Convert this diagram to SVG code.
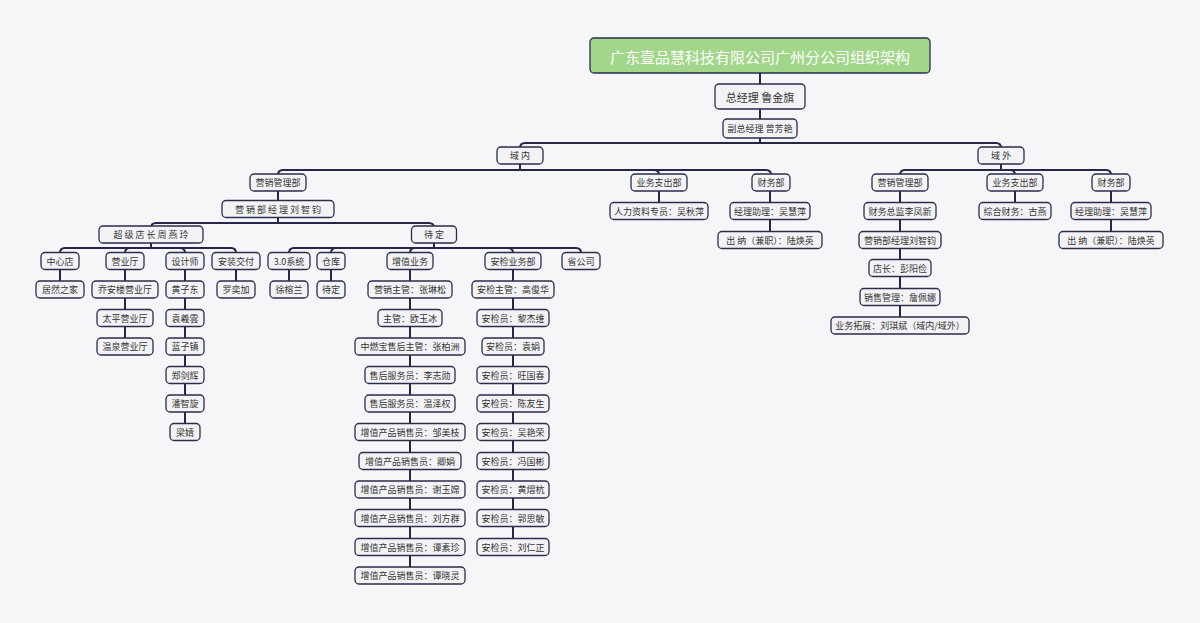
<svg xmlns="http://www.w3.org/2000/svg" width="1200" height="623" viewBox="0 0 1200 623">
<style>
.bg{fill:#f6f6f8}
.n rect{fill:#f3f3f6;stroke:#2b2d4a;stroke-width:1.3}
.n text{font-family:"Noto Sans CJK SC","Noto Sans",sans-serif;font-size:9px;fill:#333;text-anchor:middle;dominant-baseline:central}
#root rect{fill:#a2d68b;stroke:#2b2d4a;stroke-width:1.3}
#root text{font-size:15px;fill:#fff}
#gm text{font-size:11px}
.c path{fill:none;stroke:#24264a;stroke-width:2}
</style>
<rect class="bg" width="1200" height="623"/>
<g class="c" id="connectors">
<path d="M760,73V84M760,109V119M760,138V143H525Q520,143 520,148M760,143H996Q1001,143 1001,148"/>
<path d="M520,164V170H283Q278,170 278,175M520,170H654Q659,170 659,175M520,170H766Q771,170 771,175"/>
<path d="M278,191V201M278,217V223H156Q151,223 151,228M278,223H429Q434,223 434,228"/>
<path d="M151,243V248H65Q60,248 60,253M151,248H130Q125,248 125,253M151,248H180Q185,248 185,253M151,248H231Q236,248 236,253"/>
<path d="M434,243V248H294Q289,248 289,253M434,248H336Q331,248 331,253M434,248H415Q410,248 410,253M434,248H508Q513,248 513,253M434,248H576Q581,248 581,253"/>
<path d="M60,270V281M125,270V338M185,270V424M236,270V281M289,270V281M331,270V281M410,270V567M513,270V539"/>
<path d="M659,191V203M770,191V232"/>
<path d="M1001,164V170H905Q900,170 900,175M1001,170H1010Q1015,170 1015,175M1001,170H1106Q1111,170 1111,175"/>
<path d="M900,191V317M1015,191V203M1111,191V232"/>
</g>
<g class="n" id="root"><rect x="590" y="38" width="340" height="35" rx="4"/><text x="760" y="56">广东壹品慧科技有限公司广州分公司组织架构</text></g>
<g class="n" id="gm"><rect x="715" y="84" width="90" height="25" rx="4"/><text x="760" y="96.5">总经理 鲁金旗</text></g>
<g class="n" id="vgm"><rect x="723" y="119" width="74" height="19" rx="4"/><text x="760" y="128.5">副总经理 曾芳艳</text></g>
<g class="n" id="yn"><rect x="497" y="147" width="46" height="17" rx="4"/><text x="520" y="155.5">域 内</text></g>
<g class="n" id="yw"><rect x="978" y="147" width="46" height="17" rx="4"/><text x="1001" y="155.5">域 外</text></g>

<g class="n" id="yxglb"><rect x="250" y="174" width="56" height="17" rx="4"/><text x="278" y="182.5">营销管理部</text></g>
<g class="n" id="yxjl"><rect x="222" y="200.5" width="112" height="17" rx="4"/><text x="278" y="209">营 销 部 经 理 刘 智 钧</text></g>
<g class="n" id="cjdz"><rect x="99" y="226" width="104" height="17" rx="4"/><text x="151" y="234.5">超 级 店 长 周 燕 玲</text></g>
<g class="n" id="dd"><rect x="411.5" y="226" width="45" height="17" rx="4"/><text x="434" y="234.5">待 定</text></g>

<g class="n" id="zxd"><rect x="41" y="252.5" width="38" height="17" rx="4"/><text x="60" y="261">中心店</text></g>
<g class="n" id="yyt"><rect x="106" y="252.5" width="38" height="17" rx="4"/><text x="125" y="261">营业厅</text></g>
<g class="n" id="sjs"><rect x="166" y="252.5" width="38" height="17" rx="4"/><text x="185" y="261">设计师</text></g>
<g class="n" id="azjf"><rect x="212" y="252.5" width="48" height="17" rx="4"/><text x="236" y="261">安装交付</text></g>
<g class="n" id="rzjj"><rect x="36" y="281" width="48" height="17" rx="4"/><text x="60" y="289.5">居然之家</text></g>
<g class="n" id="qal"><rect x="92" y="281" width="66" height="17" rx="4"/><text x="125" y="289.5">乔安楼营业厅</text></g>
<g class="n" id="tp"><rect x="97" y="309.5" width="56" height="17" rx="4"/><text x="125" y="318">太平营业厅</text></g>
<g class="n" id="wq"><rect x="97" y="338" width="56" height="17" rx="4"/><text x="125" y="346.5">温泉营业厅</text></g>
<g class="n" id="hzd"><rect x="166" y="281" width="38" height="17" rx="4"/><text x="185" y="289.5">黄子东</text></g>
<g class="n" id="yxy"><rect x="166" y="309.5" width="38" height="17" rx="4"/><text x="185" y="318">袁羲雲</text></g>
<g class="n" id="lzz"><rect x="166" y="338" width="38" height="17" rx="4"/><text x="185" y="346.5">蓝子镇</text></g>
<g class="n" id="zjh"><rect x="166" y="366.5" width="38" height="17" rx="4"/><text x="185" y="375">郑剑辉</text></g>
<g class="n" id="pzx"><rect x="166" y="395" width="38" height="17" rx="4"/><text x="185" y="403.5">潘智旋</text></g>
<g class="n" id="lj"><rect x="170" y="423.5" width="30" height="17" rx="4"/><text x="185" y="432">梁婧</text></g>
<g class="n" id="lyj"><rect x="217" y="281" width="38" height="17" rx="4"/><text x="236" y="289.5">罗奕加</text></g>

<g class="n" id="xt"><rect x="268" y="252.5" width="42" height="17" rx="4"/><text x="289" y="261">3.0系统</text></g>
<g class="n" id="ck"><rect x="317" y="252.5" width="28" height="17" rx="4"/><text x="331" y="261">仓库</text></g>
<g class="n" id="zzyw"><rect x="387" y="252.5" width="46" height="17" rx="4"/><text x="410" y="261">增值业务</text></g>
<g class="n" id="ajywb"><rect x="485" y="252.5" width="56" height="17" rx="4"/><text x="513" y="261">安检业务部</text></g>
<g class="n" id="sgs"><rect x="562" y="252.5" width="38" height="17" rx="4"/><text x="581" y="261">省公司</text></g>
<g class="n" id="xrl"><rect x="270" y="281" width="38" height="17" rx="4"/><text x="289" y="289.5">徐榕兰</text></g>
<g class="n" id="dd2"><rect x="317" y="281" width="28" height="17" rx="4"/><text x="331" y="289.5">待定</text></g>

<g class="n" id="z1"><rect x="368" y="281" width="84" height="17" rx="4"/><text x="410" y="289.5">营销主管：张琳松</text></g>
<g class="n" id="z2"><rect x="378" y="309.5" width="64" height="17" rx="4"/><text x="410" y="318">主管：欧玉冰</text></g>
<g class="n" id="z3"><rect x="355" y="338" width="110" height="17" rx="4"/><text x="410" y="346.5">中燃宝售后主管：张柏洲</text></g>
<g class="n" id="z4"><rect x="365" y="366.5" width="90" height="17" rx="4"/><text x="410" y="375">售后服务员：李志勋</text></g>
<g class="n" id="z5"><rect x="365" y="395" width="90" height="17" rx="4"/><text x="410" y="403.5">售后服务员：温泽权</text></g>
<g class="n" id="z6"><rect x="355" y="423.5" width="110" height="17" rx="4"/><text x="410" y="432">增值产品销售员：邹美枝</text></g>
<g class="n" id="z7"><rect x="359" y="452.5" width="102" height="17" rx="4"/><text x="410" y="461">增值产品销售员：卿娟</text></g>
<g class="n" id="z8"><rect x="355" y="481" width="110" height="17" rx="4"/><text x="410" y="489.5">增值产品销售员：谢玉嫦</text></g>
<g class="n" id="z9"><rect x="355" y="509.5" width="110" height="17" rx="4"/><text x="410" y="518">增值产品销售员：刘方群</text></g>
<g class="n" id="z10"><rect x="355" y="538.5" width="110" height="17" rx="4"/><text x="410" y="547">增值产品销售员：谭素珍</text></g>
<g class="n" id="z11"><rect x="355" y="567" width="110" height="17" rx="4"/><text x="410" y="575.5">增值产品销售员：谭晓灵</text></g>

<g class="n" id="a1"><rect x="472" y="281" width="82" height="17" rx="4"/><text x="513" y="289.5">安检主管：高俊华</text></g>
<g class="n" id="a2"><rect x="477" y="309.5" width="72" height="17" rx="4"/><text x="513" y="318">安检员：黎杰维</text></g>
<g class="n" id="a3"><rect x="482" y="338" width="62" height="17" rx="4"/><text x="513" y="346.5">安检员：袁娟</text></g>
<g class="n" id="a4"><rect x="477" y="366.5" width="72" height="17" rx="4"/><text x="513" y="375">安检员：旺国春</text></g>
<g class="n" id="a5"><rect x="477" y="395" width="72" height="17" rx="4"/><text x="513" y="403.5">安检员：陈友生</text></g>
<g class="n" id="a6"><rect x="477" y="423.5" width="72" height="17" rx="4"/><text x="513" y="432">安检员：吴艳荣</text></g>
<g class="n" id="a7"><rect x="477" y="452.5" width="72" height="17" rx="4"/><text x="513" y="461">安检员：冯国彬</text></g>
<g class="n" id="a8"><rect x="477" y="481" width="72" height="17" rx="4"/><text x="513" y="489.5">安检员：黄熠杭</text></g>
<g class="n" id="a9"><rect x="477" y="509.5" width="72" height="17" rx="4"/><text x="513" y="518">安检员：郭思敏</text></g>
<g class="n" id="a10"><rect x="477" y="538.5" width="72" height="17" rx="4"/><text x="513" y="547">安检员：刘仁正</text></g>

<g class="n" id="ywzc1"><rect x="631" y="174" width="56" height="17" rx="4"/><text x="659" y="182.5">业务支出部</text></g>
<g class="n" id="rlzl"><rect x="610" y="202.5" width="98" height="17" rx="4"/><text x="659" y="211">人力资料专员：吴秋萍</text></g>
<g class="n" id="cwb1"><rect x="752" y="174" width="38" height="17" rx="4"/><text x="771" y="182.5">财务部</text></g>
<g class="n" id="jlzl1"><rect x="730" y="202.5" width="80" height="17" rx="4"/><text x="770" y="211">经理助理：吴慧萍</text></g>
<g class="n" id="cn1"><rect x="718" y="231.5" width="104" height="17" rx="4"/><text x="770" y="240">出 纳（兼职）：陆焕英</text></g>

<g class="n" id="yxglb2"><rect x="872" y="174" width="56" height="17" rx="4"/><text x="900" y="182.5">营销管理部</text></g>
<g class="n" id="cwzj"><rect x="864" y="202.5" width="72" height="17" rx="4"/><text x="900" y="211">财务总监李凤新</text></g>
<g class="n" id="yxjl2"><rect x="859" y="231.5" width="82" height="17" rx="4"/><text x="900" y="240">营销部经理刘智钧</text></g>
<g class="n" id="dz"><rect x="869" y="259.5" width="62" height="17" rx="4"/><text x="900" y="268">店长：彭阳俭</text></g>
<g class="n" id="xsgl"><rect x="860" y="288.5" width="80" height="17" rx="4"/><text x="900" y="297">销售管理：詹佩娜</text></g>
<g class="n" id="ywtz"><rect x="831" y="317" width="138" height="17" rx="4"/><text x="900" y="325.5">业务拓展：刘琪斌（域内/域外）</text></g>
<g class="n" id="ywzc2"><rect x="987" y="174" width="56" height="17" rx="4"/><text x="1015" y="182.5">业务支出部</text></g>
<g class="n" id="zhcw"><rect x="979" y="202.5" width="72" height="17" rx="4"/><text x="1015" y="211">综合财务：古燕</text></g>
<g class="n" id="cwb2"><rect x="1092" y="174" width="38" height="17" rx="4"/><text x="1111" y="182.5">财务部</text></g>
<g class="n" id="jlzl2"><rect x="1071" y="202.5" width="80" height="17" rx="4"/><text x="1111" y="211">经理助理：吴慧萍</text></g>
<g class="n" id="cn2"><rect x="1059" y="231.5" width="104" height="17" rx="4"/><text x="1111" y="240">出 纳（兼职）：陆焕英</text></g>
</svg>
